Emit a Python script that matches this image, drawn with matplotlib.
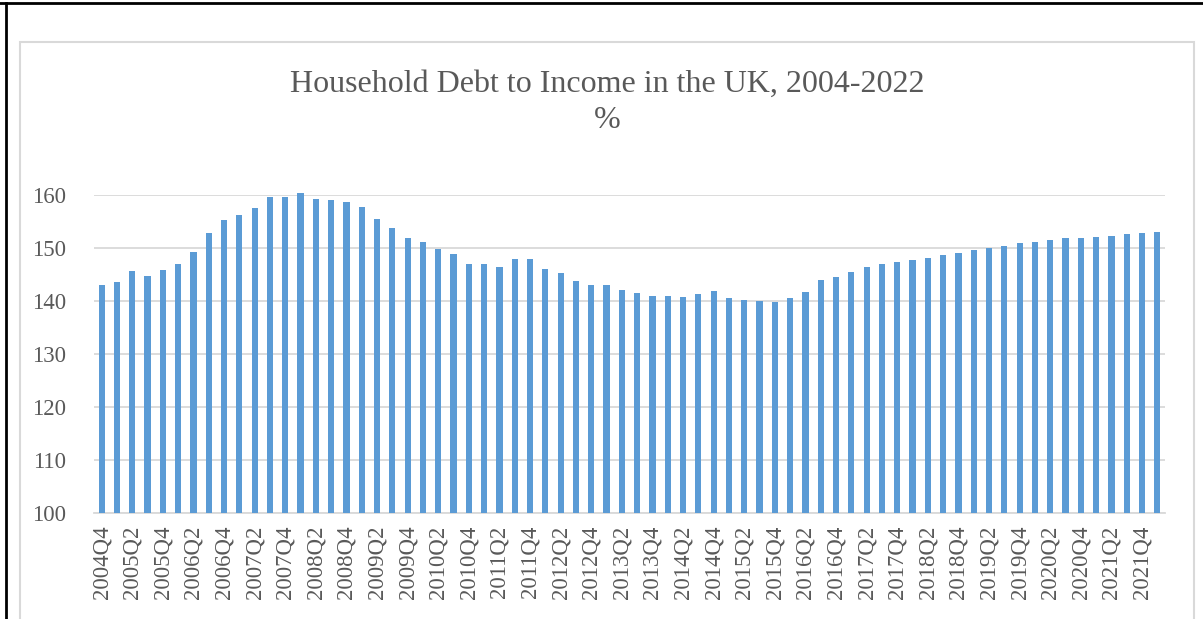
import matplotlib.pyplot as plt
from matplotlib.patches import Rectangle
from matplotlib.lines import Line2D

# quarters 2004Q4 .. 2022Q1
quarters = []
for yr in range(2004, 2023):
    for q in range(1, 5):
        quarters.append(f"{yr}Q{q}")
quarters = quarters[quarters.index("2004Q4"):quarters.index("2022Q1") + 1]

debt_to_income = [
    143.1, 143.5, 145.7, 144.7, 145.8, 146.9, 149.2, 152.8, 155.3, 156.2,
    157.5, 159.6, 159.7, 160.3, 159.2, 159.1, 158.6, 157.7, 155.5, 153.8,
    151.9, 151.1, 149.9, 148.9, 147.0, 146.9, 146.5, 147.9, 147.9, 146.0,
    145.3, 143.7, 143.1, 143.1, 142.0, 141.5, 140.9, 140.9, 140.8, 141.4,
    141.8, 140.6, 140.1, 140.0, 139.9, 140.6, 141.7, 143.9, 144.6, 145.5,
    146.4, 146.9, 147.3, 147.7, 148.1, 148.7, 149.1, 149.6, 150.0, 150.4,
    150.9, 151.2, 151.6, 151.8, 151.9, 152.1, 152.3, 152.6, 152.8, 153.0,
]
y_ticks = [100, 110, 120, 130, 140, 150, 160]

txt = "#595959"
grid = "#D9D9D9"
plt.rcParams['font.family'] = ['Liberation Serif', 'DejaVu Serif']

W, H = 1203, 619
fig = plt.figure(figsize=(W / 100, H / 100), dpi=100)

# outer chart-area frame and black page borders
fig.patches.append(Rectangle((20 / W, -0.1), (1194 - 20) / W, 1 - 42 / H + 0.1,
                             transform=fig.transFigure, fill=False,
                             edgecolor=grid, linewidth=1.5))
fig.lines.append(Line2D([0, 1], [1 - 3 / H, 1 - 3 / H], transform=fig.transFigure,
                        color="black", linewidth=2))
fig.lines.append(Line2D([6 / W, 6 / W], [0, 1 - 3 / H], transform=fig.transFigure,
                        color="black", linewidth=2))

ax = fig.add_axes([94 / W, 1 - 513 / H, (1165 - 94) / W, (513 - 195) / H])
x = list(range(len(quarters)))
ax.bar(x, [v - 100 for v in debt_to_income], bottom=100, width=0.4,
       color="#5B9BD5", zorder=3, clip_on=False)

ax.set_xlim(-0.5, len(quarters) - 0.5)
ax.set_ylim(100, 160)
ax.set_yticks(y_ticks)
ax.set_xticks(x[::2])
ax.set_xticklabels(quarters[::2], rotation=90)
ax.tick_params(axis="both", length=0, colors=txt, labelsize=16.5)
ax.tick_params(axis="y", pad=20)
ax.tick_params(axis="x", pad=9)
ax.grid(axis="y", color=grid, linewidth=1.3, zorder=0)
for s in ["top", "right", "left"]:
    ax.spines[s].set_visible(False)
ax.spines["bottom"].set_color(grid)
ax.spines["bottom"].set_linewidth(1.3)

fig.text(607 / W, 1 - 84 / H, "Household Debt to Income in the UK, 2004-2022",
         ha="center", va="center", fontsize=23, color=txt)
fig.text(607 / W, 1 - 121 / H, "%", ha="center", va="center", fontsize=23, color=txt)

fig.savefig("out.png", dpi=100)
